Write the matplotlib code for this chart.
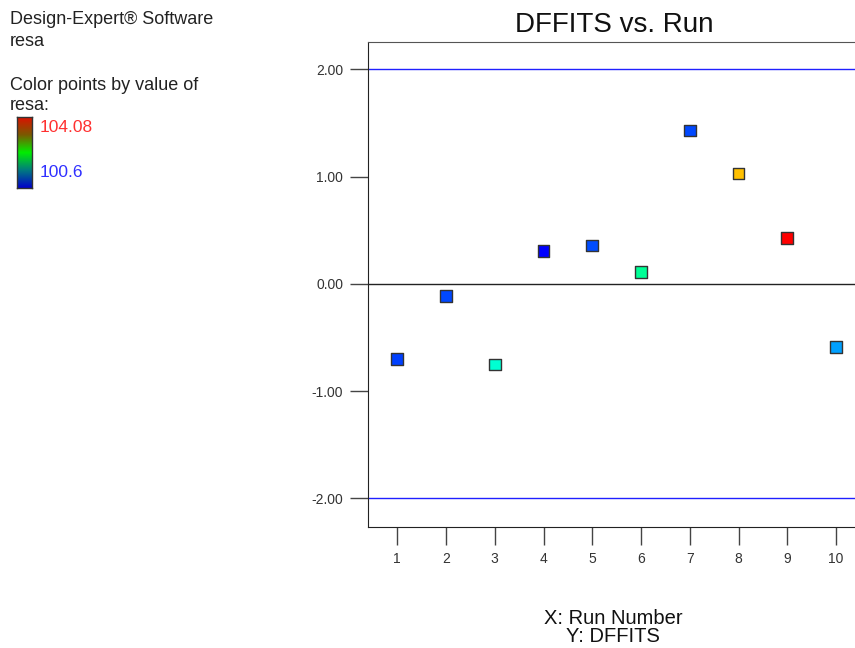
import matplotlib
matplotlib.use("Agg")
import matplotlib.pyplot as plt
import numpy as np
from matplotlib.colors import LinearSegmentedColormap, Normalize

plt.rcParams['font.family'] = ['Liberation Sans', 'DejaVu Sans']

# Run order, DFFITS and response value for each run
runs = [1, 2, 3, 4, 5, 6, 7, 8, 9, 10]
dffits = [-0.70, -0.11, -0.75, 0.31, 0.36, 0.11, 1.43, 1.03, 0.43, -0.59]
resa = [100.82, 100.85, 101.62, 100.60, 100.86, 101.83, 100.85, 103.42, 104.08, 101.15]

resa_min, resa_max = 100.6, 104.08
limit = 2.0
y_ticks = [-2, -1, 0, 1, 2]
y_tick_labels = ["-2.00", "-1.00", "0.00", "1.00", "2.00"]

point_cmap = LinearSegmentedColormap.from_list(
    "pts", ["#0000ff", "#00ffff", "#00ff00", "#ffff00", "#ff0000"])
bar_cmap = LinearSegmentedColormap.from_list(
    "bar", ["#0000cc", "#007a80", "#00ee00", "#7a5a00", "#dd1100"])
norm = Normalize(resa_min, resa_max)

W, H = 855, 648
fig = plt.figure(figsize=(W / 100, H / 100), dpi=100)

ax_left, ax_right = 368 / W, 1.012
ax_bottom, ax_top = 1 - 527 / H, 1 - 42 / H
ax = fig.add_axes([ax_left, ax_bottom, ax_right - ax_left, ax_top - ax_bottom])

ax.axhline(0, color="#222222", lw=1.0, zorder=1)
ax.axhline(limit, color="#2020ff", lw=1.0, zorder=1)
ax.axhline(-limit, color="#2020ff", lw=1.0, zorder=1)

colors = point_cmap(norm(np.array(resa)))
ax.scatter(runs, dffits, marker="s", s=70, c=colors,
           edgecolors="#333333", linewidths=1.0, zorder=3)

ax.set_xlim(0.4, 10.6)
ax.set_ylim(-2.266, 2.256)
ax.set_xticks(runs)
ax.set_xticklabels([str(r) for r in runs])
ax.set_yticks(y_ticks)
ax.set_yticklabels(y_tick_labels)
ax.tick_params(axis="both", direction="out", length=13, width=1.0,
               color="#444444", labelsize=10, labelcolor="#333333", pad=5)
ax.spines["right"].set_visible(False)
ax.spines["top"].set_color("#555555")
for s in ("left", "bottom"):
    ax.spines[s].set_color("#222222")

fig.text(614 / W, 1 - 25 / H, "DFFITS vs. Run", ha="center", va="center",
         fontsize=20, color="#111111")

fig.text(613 / W, 1 - 618 / H, "X: Run Number", ha="center", va="center",
         fontsize=14.5, color="#111111")
fig.text(613 / W, 1 - 637 / H, "Y: DFFITS", ha="center", va="center",
         fontsize=14.5, color="#111111")

# Side notes
side = dict(ha="left", va="center", fontsize=13, color="#222222")
fig.text(10 / W, 1 - 19 / H, "Design-Expert\u00ae Software", **side)
fig.text(10 / W, 1 - 41 / H, "resa", **side)
fig.text(10 / W, 1 - 85 / H, "Color points by value of", **side)
fig.text(10 / W, 1 - 105 / H, "resa:", **side)

cax = fig.add_axes([17 / W, 1 - 188 / H, 15 / W, 71 / H])
grad = np.linspace(0, 1, 256).reshape(-1, 1)
cax.imshow(grad, aspect="auto", cmap=bar_cmap, origin="lower")
cax.set_xticks([])
cax.set_yticks([])
for s in cax.spines.values():
    s.set_color("#333333")
    s.set_linewidth(1.0)

fig.text(40 / W, 1 - 128 / H, f"{resa_max:g}", ha="left", va="center",
         fontsize=12.5, color="#ff3030")
fig.text(40 / W, 1 - 172 / H, f"{resa_min:g}", ha="left", va="center",
         fontsize=12.5, color="#3030ff")

fig.savefig("out.png", dpi=100)
